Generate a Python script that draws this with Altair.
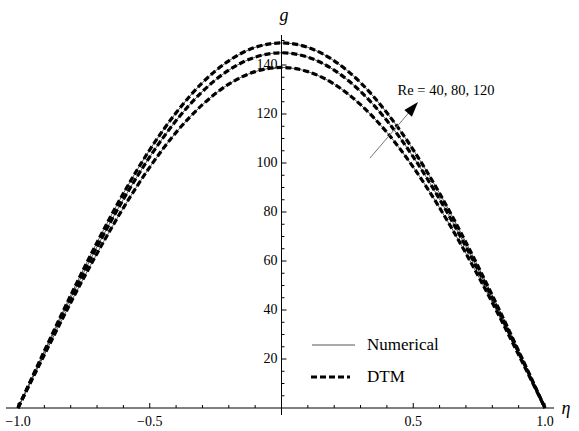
import altair as alt
import pandas as pd

# ---- data ----
eta = [-1.0, -0.9, -0.8, -0.7, -0.6, -0.5, -0.4, -0.3, -0.2, -0.1, 0.0,
       0.1, 0.2, 0.3, 0.4, 0.5, 0.6, 0.7, 0.8, 0.9, 1.0]
g_re40 = [0.0, 21.7, 43.0, 63.1, 81.7, 98.3, 112.5, 123.8, 132.2, 137.3, 139.0,
          137.3, 132.2, 123.8, 112.5, 98.3, 81.7, 63.1, 43.0, 21.7, 0.0]
g_re80 = [0.0, 22.7, 44.8, 65.8, 85.2, 102.5, 117.3, 129.2, 137.9, 143.2, 145.0,
          143.2, 137.9, 129.2, 117.3, 102.5, 85.2, 65.8, 44.8, 22.7, 0.0]
g_re120 = [0.0, 23.3, 46.0, 67.6, 87.6, 105.4, 120.5, 132.8, 141.7, 147.2, 149.0,
           147.2, 141.7, 132.8, 120.5, 105.4, 87.6, 67.6, 46.0, 23.3, 0.0]
re_values = ["40", "80", "120"]

x_major_ticks = [-1.0, -0.5, 0.5, 1.0]
x_major_labels = ["\u22121.0", "\u22120.5", "0.5", "1.0"]
x_minor_ticks = [-0.9, -0.8, -0.7, -0.6, -0.4, -0.3, -0.2, -0.1,
                 0.1, 0.2, 0.3, 0.4, 0.6, 0.7, 0.8, 0.9]
y_major_ticks = [20, 40, 60, 80, 100, 120, 140]
y_major_labels = ["20", "40", "60", "80", "100", "120", "140"]
y_minor_ticks = [5, 10, 15, 25, 30, 35, 45, 50, 55, 65, 70, 75, 85, 90, 95,
                 105, 110, 115, 125, 130, 135, 145, 150]

legend_labels = ["Numerical", "DTM"]
annotation_text = "Re = 40, 80, 120"

# ---- build tables ----
rows = []
for re, series in zip(re_values, [g_re40, g_re80, g_re120]):
    for e, g in zip(eta, series):
        rows.append({"eta": e, "g": g, "Re": re})
df = pd.DataFrame(rows)

W, H = 579, 431
X0, XS = 281.5, 263.5   # pixel of eta=0, pixels per unit
Y0, YS = 408.0, 2.45    # pixel of g=0, pixels per unit
xs = alt.Scale(domain=[-X0 / XS, (W - X0) / XS], nice=False, zero=False)
ys = alt.Scale(domain=[(Y0 - H) / YS, Y0 / YS], nice=False, zero=False)

FONT = "Liberation Serif"
one = pd.DataFrame({"a": [0]})

xenc = alt.X("eta:Q", scale=xs, axis=None)
yenc = alt.Y("g:Q", scale=ys, axis=None)

solid = alt.Chart(df).mark_line(color="#555555", strokeWidth=1, interpolate="monotone").encode(
    x=xenc, y=yenc, detail="Re:N")
dashed = alt.Chart(df).mark_line(color="black", strokeWidth=3.2, strokeDash=[6, 3],
                                  interpolate="monotone").encode(x=xenc, y=yenc, detail="Re:N")

# axes lines
x_axis_line = alt.Chart(one).mark_rule(color="black", strokeWidth=1).encode(
    x=alt.value(6), x2=alt.value(554), y=alt.value(Y0))
y_axis_line = alt.Chart(one).mark_rule(color="black", strokeWidth=1).encode(
    x=alt.value(X0), y=alt.value(35), y2=alt.value(415))

# ticks
xmaj = alt.Chart(pd.DataFrame({"t": x_major_ticks, "label": x_major_labels}))
xmin = alt.Chart(pd.DataFrame({"t": x_minor_ticks}))
ymaj = alt.Chart(pd.DataFrame({"v": y_major_ticks, "label": y_major_labels}))
ymin = alt.Chart(pd.DataFrame({"v": y_minor_ticks}))

x_major_tick = xmaj.mark_rule(color="black", strokeWidth=1).encode(
    x=alt.X("t:Q", scale=xs, axis=None), y=alt.value(Y0), y2=alt.value(Y0 - 5))
x_minor_tick = xmin.mark_rule(color="black", strokeWidth=1).encode(
    x=alt.X("t:Q", scale=xs, axis=None), y=alt.value(Y0), y2=alt.value(Y0 - 3))
y_major_tick = ymaj.mark_rule(color="black", strokeWidth=1).encode(
    y=alt.Y("v:Q", scale=ys, axis=None), x=alt.value(X0), x2=alt.value(X0 + 5))
y_minor_tick = ymin.mark_rule(color="black", strokeWidth=1).encode(
    y=alt.Y("v:Q", scale=ys, axis=None), x=alt.value(X0), x2=alt.value(X0 + 3))

x_labels = xmaj.mark_text(font=FONT, fontSize=14, baseline="middle", dy=14, color="black").encode(
    x=alt.X("t:Q", scale=xs, axis=None), y=alt.value(Y0), text="label:N")
y_labels = ymaj.mark_text(font=FONT, fontSize=14, baseline="middle", align="right", dx=-4,
                          color="black").encode(
    y=alt.Y("v:Q", scale=ys, axis=None), x=alt.value(X0), text="label:N")

g_title = alt.Chart(one).mark_text(text="g", font=FONT, fontSize=18, fontStyle="italic",
                                   baseline="middle", color="black").encode(
    x=alt.value(284), y=alt.value(16))
eta_title = alt.Chart(one).mark_text(text="\u03b7", font=FONT, fontSize=18, fontStyle="italic",
                                     baseline="middle", color="black").encode(
    x=alt.value(566), y=alt.value(409))

# legend
leg_solid = alt.Chart(one).mark_rule(color="#555555", strokeWidth=1).encode(
    x=alt.value(312), x2=alt.value(355), y=alt.value(345))
leg_dash = alt.Chart(one).mark_rule(color="black", strokeWidth=3.2, strokeDash=[6, 3]).encode(
    x=alt.value(311), x2=alt.value(350), y=alt.value(377))
leg_text = alt.Chart(pd.DataFrame({"label": legend_labels, "py": [345, 377]})).mark_text(
    font=FONT, fontSize=17, align="left", baseline="middle", color="black").encode(
    x=alt.value(367), y=alt.Y("py:Q", scale=None, axis=None), text="label:N")

# arrow annotation
shaft = alt.Chart(one).mark_rule(color="#777777", strokeWidth=1).encode(
    x=alt.value(370), y=alt.value(158), x2=alt.value(412), y2=alt.value(109))
head = alt.Chart(one).mark_point(shape="M0,0L0.6,1.8L-0.6,1.8Z", filled=True, size=280,
                                  angle=41, color="black", opacity=1).encode(
    x=alt.value(418), y=alt.value(102))
ann = alt.Chart(one).mark_text(text=annotation_text, font=FONT, fontSize=14.5,
                               baseline="middle", color="black").encode(
    x=alt.value(446), y=alt.value(91))

chart = alt.layer(
    solid, dashed, x_axis_line, y_axis_line,
    x_major_tick, x_minor_tick, y_major_tick, y_minor_tick,
    x_labels, y_labels, g_title, eta_title,
    leg_solid, leg_dash, leg_text, shaft, head, ann
).properties(
    width=W, height=H, padding=0, autosize=alt.AutoSizeParams(type="none"), background="white"
).configure_view(stroke=None)

chart.save("out.html", embed_options={"renderer": "svg", "actions": False})
